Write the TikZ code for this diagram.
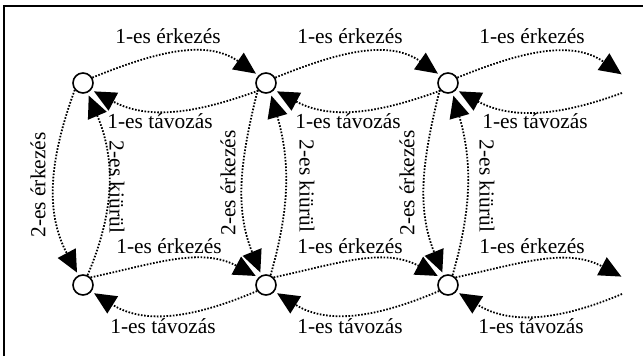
\documentclass[tikz,border=0pt]{standalone}
\usepackage{fontspec}
\setmainfont{Liberation Serif}
\usetikzlibrary{arrows.meta}
\begin{document}
\begin{tikzpicture}[x=1bp,y=1bp,
  state/.style={circle, draw, line width=1.6bp, fill=white, minimum size=20bp, inner sep=0pt},
  flow/.style={line width=1.8bp, dash pattern=on 1.6bp off 1.6bp,
    -{Triangle[length=22bp,width=20bp]},
    shorten >=3bp},
  lbl/.style={font=\fontsize{21.5}{24}\selectfont, inner sep=0pt},
]
\useasboundingbox (0,0) rectangle (643,356);

% frame (top and left edges)
\draw[line width=2bp] (4,0) -- (4,350) -- (643,350);

% states
\node[state] (t1) at (83,273) {};
\node[state] (t2) at (266,273) {};
\node[state] (t3) at (448,273) {};
\node[state] (b1) at (83,71) {};
\node[state] (b2) at (266,71) {};
\node[state] (b3) at (448,71) {};

% open ends on the right
\coordinate (tin) at (624,280);
\coordinate (tout) at (622,263);
\coordinate (bin) at (624,78);
\coordinate (bout) at (622,62);

% upper row: 1-es érkezés / 1-es távozás
\draw[flow] (t1.30) to[out=22,in=145] (t2.135);
\draw[flow] (t2.30) to[out=22,in=145] (t3.135);
\draw[flow] (t3.30) to[out=22,in=145] (tin);
\draw[flow] (t2.225) to[out=200,in=-28] (t1.-40);
\draw[flow] (t3.225) to[out=200,in=-28] (t2.-40);
\draw[flow] (tout) to[out=200,in=-28] (t3.-40);

% lower row: 1-es érkezés / 1-es távozás
\draw[flow] (b1.45) to[out=12,in=152] (b2.135);
\draw[flow] (b2.45) to[out=12,in=152] (b3.135);
\draw[flow] (b3.45) to[out=12,in=152] (bin);
\draw[flow] (b2.214) to[out=203,in=-32] (b1.-38);
\draw[flow] (b3.214) to[out=203,in=-32] (b2.-38);
\draw[flow] (bout) to[out=203,in=-32] (b3.-38);

% columns: 2-es érkezés (down) / 2-es kiürül (up)
\draw[flow] (t1.220) to[out=250,in=118] (b1.115);
\draw[flow] (b1.65) to[out=67,in=-67] (t1.-65);
\draw[flow] (t2.220) to[out=256,in=112] (b2.115);
\draw[flow] (b2.65) to[out=74,in=-74] (t2.-65);
\draw[flow] (t3.220) to[out=256,in=112] (b3.115);
\draw[flow] (b3.65) to[out=74,in=-74] (t3.-65);

% row labels
\node[lbl, anchor=base] (la1) at (168,313) {1-es érkezés};
\node[lbl, anchor=base] (la2) at (350,313) {1-es érkezés};
\node[lbl, anchor=base] (la3) at (532,313) {1-es érkezés};
\node[lbl, anchor=base] (ld1) at (160,228) {1-es távozás};
\node[lbl, anchor=base] (ld2) at (348,228) {1-es távozás};
\node[lbl, anchor=base] (ld3) at (535,228) {1-es távozás};
\node[lbl, anchor=base] (lb1) at (169,103) {1-es érkezés};
\node[lbl, anchor=base] (lb2) at (350,103) {1-es érkezés};
\node[lbl, anchor=base] (lb3) at (532,103) {1-es érkezés};
\node[lbl, anchor=base] (le1) at (163,23) {1-es távozás};
\node[lbl, anchor=base] (le2) at (350,23) {1-es távozás};
\node[lbl, anchor=base] (le3) at (531,23) {1-es távozás};

% column labels
\node[lbl, rotate=90] (lv1) at (38,171) {2-es érkezés};
\node[lbl, rotate=90] (lv2) at (228,173) {2-es érkezés};
\node[lbl, rotate=90] (lv3) at (407,173) {2-es érkezés};
\node[lbl, rotate=-90] (lk1) at (117,169) {2-es kiürül};
\node[lbl, rotate=-90] (lk2) at (307,170) {2-es kiürül};
\node[lbl, rotate=-90] (lk3) at (487,170) {2-es kiürül};
\end{tikzpicture}
\end{document}
